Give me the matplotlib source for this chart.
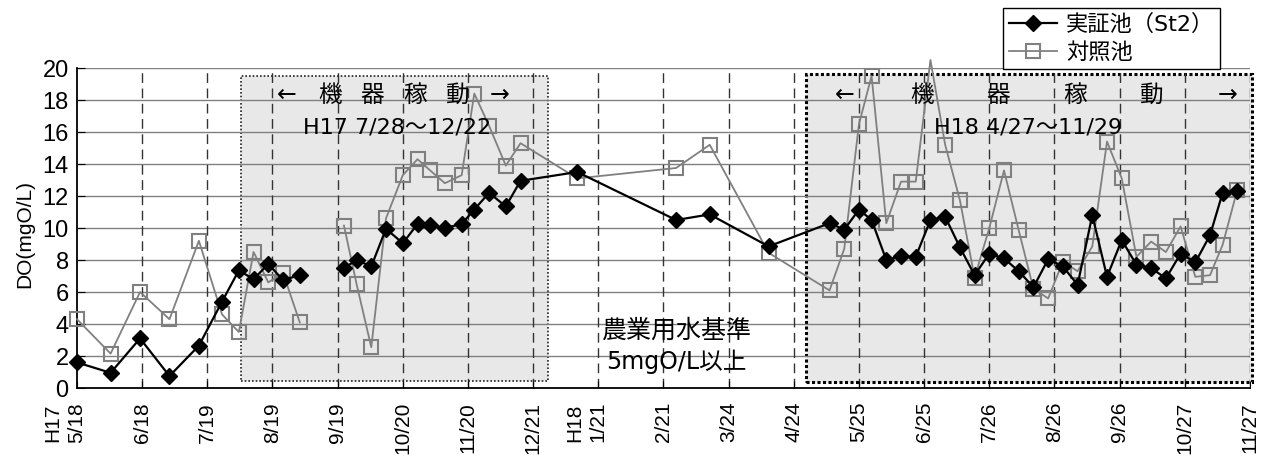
import pandas as pd
import numpy as np
import matplotlib
matplotlib.use("Agg")
import matplotlib.pyplot as plt
import matplotlib.transforms as mtransforms
from matplotlib.patches import Rectangle

plt.rcParams['font.family'] = ['DejaVu Sans', 'Noto Sans CJK JP']
AXFONT = ['Liberation Sans', 'DejaVu Sans']

# sampling dates (H17 = 2005, H18 = 2006); 2005-09-08 has no measurement (gap in lines)
sample_dates = [
    "2005-05-18", "2005-06-03", "2005-06-17", "2005-07-01", "2005-07-15", "2005-07-26",
    "2005-08-03", "2005-08-10", "2005-08-17", "2005-08-24", "2005-09-01", "2005-09-08",
    "2005-09-22",
    "2005-09-28", "2005-10-05", "2005-10-12", "2005-10-20", "2005-10-27", "2005-11-02",
    "2005-11-09", "2005-11-17", "2005-11-23", "2005-11-30", "2005-12-08", "2005-12-15",
    "2006-01-11", "2006-02-27", "2006-03-15", "2006-04-12", "2006-05-11", "2006-05-18",
    "2006-05-25", "2006-05-31", "2006-06-07", "2006-06-14", "2006-06-21", "2006-06-28",
    "2006-07-05", "2006-07-12", "2006-07-19", "2006-07-26", "2006-08-02", "2006-08-09",
    "2006-08-16", "2006-08-23", "2006-08-30", "2006-09-06", "2006-09-13", "2006-09-20",
    "2006-09-27", "2006-10-04", "2006-10-11", "2006-10-18", "2006-10-25", "2006-11-01",
    "2006-11-08", "2006-11-14", "2006-11-21",
]
# 実証池 (St2)
do_st2 = [
    1.6, 0.95, 3.1, 0.75, 2.65, 5.4,
    7.35, 6.8, 7.75, 6.75, 7.05, np.nan, 7.5,
    8.0, 7.6, 9.95, 9.05, 10.25, 10.2,
    10.0, 10.25, 11.15, 12.2, 11.35, 12.95,
    13.5, 10.5, 10.85, 8.85, 10.3, 9.9,
    11.15, 10.5, 8.0, 8.25, 8.2, 10.5,
    10.7, 8.8, 7.05, 8.4, 8.1, 7.3,
    6.3, 8.05, 7.6, 6.45, 10.8, 6.95,
    9.25, 7.7, 7.5, 6.85, 8.4, 7.85,
    9.55, 12.2, 12.3,
]
# 対照池
do_ref = [
    4.3, 2.15, 6.0, 4.3, 9.2, 4.6,
    3.5, 8.5, 6.6, 7.2, 4.1, np.nan, 10.15,
    6.5, 2.55, 10.6, 13.3, 14.3, 13.6,
    12.8, 13.3, 18.4, 16.4, 13.9, 15.3,
    13.1, 13.75, 15.2, 8.45, 6.1, 8.7,
    16.5, 19.5, 10.3, 12.9, 12.9, 20.5,
    15.2, 11.75, 6.9, 10.0, 13.6, 9.85,
    6.2, 5.6, 7.9, 7.3, 8.85, 15.4,
    13.1, 8.2, 9.15, 8.5, 10.1, 6.95,
    7.05, 8.95, 12.4,
]

tick_dates = [
    "2005-05-18", "2005-06-18", "2005-07-19", "2005-08-19", "2005-09-19", "2005-10-20",
    "2005-11-20", "2005-12-21", "2006-01-21", "2006-02-21", "2006-03-24", "2006-04-24",
    "2006-05-25", "2006-06-25", "2006-07-26", "2006-08-26", "2006-09-26", "2006-10-27",
    "2006-11-27",
]
era_labels = {"2005-05-18": "H17", "2006-01-21": "H18"}

standard_do = 5.1
run_periods = [("2005-08-04", "2005-12-28"), ("2006-04-30", "2006-11-28")]

dates = pd.to_datetime(sample_dates)
ticks = pd.to_datetime(tick_dates)

fig = plt.figure(figsize=(12.64, 4.68), dpi=100)
ax = fig.add_axes([0.0609, 0.1709, 0.928, 0.6838])

# operating periods (shaded boxes)
for i, (s, e) in enumerate(run_periods):
    s, e = pd.Timestamp(s), pd.Timestamp(e)
    if i == 0:
        rect = Rectangle((s, 0.45), e - s, 19.05, facecolor='#e8e8e8', edgecolor='#222222',
                         linewidth=1.2, linestyle=(0, (1, 1.2)), zorder=0.5)
    else:
        rect = Rectangle((s, 0.35), e - s, 19.25, facecolor='#e8e8e8', edgecolor='black',
                         linewidth=2.2, linestyle=(0, (1, 0.8)), zorder=0.5, clip_on=False)
    ax.add_patch(rect)

# grid
for y in range(2, 21, 2):
    ax.axhline(y, color='#808080', linewidth=1.0, zorder=1)
for t in ticks[1:]:
    ax.axvline(t, color='#333333', linewidth=1.0, linestyle=(0, (7, 4)), zorder=1)

# standard line
ax.plot([pd.Timestamp("2005-05-20"), pd.Timestamp("2006-11-18")], [standard_do, standard_do],
        color='#707070', linewidth=3.8, linestyle=(0, (0, 2.7)), dash_capstyle='round', zorder=2)

show_marker = [bool(v <= 20) for v in do_ref]
ax.plot(dates, do_ref, color='#808080', linewidth=1.3, marker='s', markersize=9.5,
        markerfacecolor='none', markeredgecolor='#808080', markeredgewidth=1.5,
        markevery=show_marker, clip_on=False, zorder=3, label='対照池')
ax.plot(dates, do_st2, color='black', linewidth=1.6, marker='D', markersize=8,
        markerfacecolor='black', markeredgecolor='black', clip_on=False, zorder=4,
        label='実証池（St2）')

ax.set_xlim(ticks[0], ticks[-1])
ax.set_ylim(0, 20)
ax.set_yticks(range(0, 21, 2))
ax.set_yticklabels([str(v) for v in range(0, 21, 2)], fontsize=17, family=AXFONT)
ax.set_xticks(ticks)
ax.set_xticklabels([f"{d.month}/{d.day}" for d in ticks], rotation=90, fontsize=15,
                   family=AXFONT)
ax.tick_params(axis='x', direction='in', length=5, pad=10)
ax.tick_params(axis='y', direction='in', length=6, pad=6)
for sp in ['top', 'right']:
    ax.spines[sp].set_visible(False)
for sp in ['left', 'bottom']:
    ax.spines[sp].set_linewidth(1.3)

ax.set_ylabel('DO(mgO/L)', fontsize=15, family=AXFONT)
ax.yaxis.set_label_coords(-0.036, 0.48)

# era labels beside first tick of each year
for d, era in era_labels.items():
    off = mtransforms.ScaledTranslation(-24 / 100, -16 / 100, fig.dpi_scale_trans)
    tr = mtransforms.blended_transform_factory(ax.transData, ax.transAxes) + off
    ax.text(pd.Timestamp(d), 0, era, rotation=90, ha='center', va='top', fontsize=15,
            family=AXFONT, transform=tr)

# annotations
arrow_chars = ['←', '機', '器', '稼', '動', '→']
box1_x = [0.179, 0.2157, 0.2519, 0.2882, 0.3248, 0.3606]
box2_x = [0.6547, 0.7204, 0.7852, 0.8508, 0.9165, 0.9812]
for xs in (box1_x, box2_x):
    for x, c in zip(xs, arrow_chars):
        ax.text(x, 0.915, c, transform=ax.transAxes, ha='center', va='center', fontsize=17,
                zorder=5)
ax.text(0.2732, 0.815, 'H17 7/28～12/22', transform=ax.transAxes, ha='center', va='center',
        fontsize=16, zorder=5)
ax.text(0.8112, 0.815, 'H18 4/27～11/29', transform=ax.transAxes, ha='center', va='center',
        fontsize=16, zorder=5)
ax.text(0.5112, 0.179, '農業用水基準', transform=ax.transAxes, ha='center', va='center',
        fontsize=18, zorder=5)
ax.text(0.5112, 0.082, '5mgO/L以上', transform=ax.transAxes, ha='center', va='center',
        fontsize=17, zorder=5)

handles, labels = ax.get_legend_handles_labels()
leg = fig.legend(handles[::-1], labels[::-1], loc='upper left',
                 bbox_to_anchor=(1003 / 1264, 1 - 8 / 468), fontsize=16, frameon=True,
                 fancybox=False, edgecolor='black', framealpha=1, handlelength=2.2,
                 labelspacing=0.35, borderpad=0.25, handletextpad=0.4, borderaxespad=0)
leg.get_frame().set_linewidth(1.0)
leg.set_zorder(10)

fig.savefig('out.png', dpi=100)
